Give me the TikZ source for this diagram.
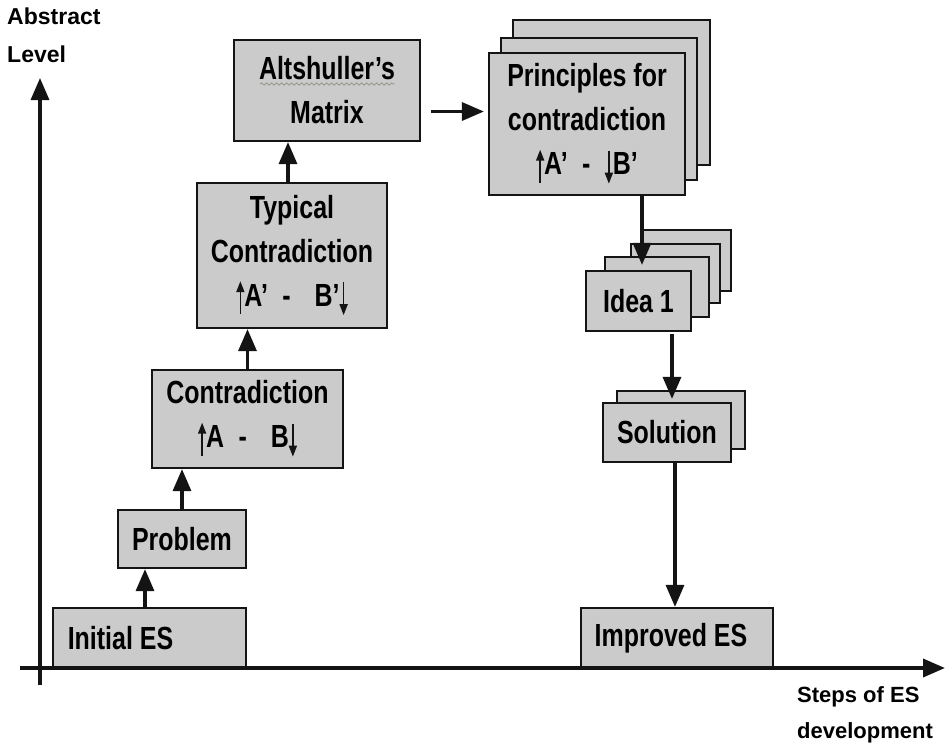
\documentclass[tikz,border=0pt]{standalone}
\usepackage{fontspec}
\setmainfont{Liberation Sans}
\newfontfamily\boxfont{Liberation Sans}[FakeStretch=0.78]
\usepackage{tikz}
\usetikzlibrary{arrows.meta,positioning,decorations.pathmorphing}
\definecolor{boxgray}{RGB}{203,203,203}
\definecolor{inkblack}{RGB}{20,20,20}
\definecolor{squiggle}{RGB}{150,150,140}
% small arrows inside the contradiction texts
\newcommand{\uparr}{\tikz[baseline=0pt]\draw[inkblack, line width=1.7pt, -{Triangle[width=8pt,length=11pt]}] (0pt,-8pt) -- (0pt,25pt);}
\newcommand{\dnarr}{\tikz[baseline=0pt]\draw[inkblack, line width=1.7pt, -{Triangle[width=8pt,length=11pt]}] (0pt,24pt) -- (0pt,-9pt);}

\begin{document}
\begin{tikzpicture}[x=1pt, y=-1pt,
    box/.style={draw=inkblack, line width=2.2pt, fill=boxgray, align=center, inner sep=4pt,
      font=\boxfont\bfseries\fontsize{32}{44}\selectfont},
    card/.style={draw=inkblack, line width=2.2pt, fill=boxgray},
    flow/.style={draw=inkblack, line width=3.3pt, -{Triangle[width=18pt,length=22pt]}},
    axislabel/.style={font=\bfseries\fontsize{23}{38}\selectfont, align=left, inner sep=0pt}]
    \useasboundingbox (0,0) rectangle (948,748);
    % Left column: from the initial system up to the matrix
    \node[box, minimum width=193pt, minimum height=60pt] (init) at (149.5,638)
      {Initial ES\hspace*{58pt}};
    \node[box, minimum width=128pt, minimum height=58pt] (prob) at (182,539) {Problem};
    \node[box, minimum width=191pt, minimum height=98pt] (contra) at (247.5,419)
      {Contradiction\\ \uparr A\hspace{0.45em}-\hspace{0.75em}B\dnarr};
    \node[box, minimum width=190pt, minimum height=145pt] (typ) at (292,255.5)
      {Typical\\Contradiction\\ \uparr A’\hspace{0.45em}-\hspace{0.75em}B’\dnarr};
    \node[box, minimum width=186pt, minimum height=101pt] (alt) at (327,90.5)
      {Altshuller’s\\Matrix};
    \draw[squiggle, line width=0.8pt, decorate, decoration={snake, amplitude=1.2pt, segment length=5pt}]
      (260,84) -- (395,84);
    % Right column: stacked cards
    \foreach \xa/\ya/\xb/\yb in {513/20/710/165, 501/38/697/180} {
      \draw[card] (\xa,\ya) rectangle (\xb,\yb);
    }
    \node[box, minimum width=196pt, minimum height=142pt] (prin) at (587,124)
      {Principles for\\contradiction\\ \uparr A’\hspace{0.45em}-\hspace{0.45em}\dnarr B’};
    \foreach \xa/\ya/\xb/\yb in {643/230/731/291, 631/244/720/303, 605/257/709/317} {
      \draw[card] (\xa,\ya) rectangle (\xb,\yb);
    }
    \node[box, minimum width=105pt, minimum height=60pt] (idea) at (638.5,301) {Idea 1};
    \draw[card] (617,391) rectangle (745,449);
    \node[box, minimum width=128pt, minimum height=59pt] (sol) at (667,432.5) {Solution};
    \node[box, minimum width=192pt, minimum height=60pt] (imp) at (677,638)
      {Improved ES\hspace*{12pt}};
    % Connectors
    \draw[flow] ([xshift=-4.5pt]init.north) -- ([xshift=-4.5pt]init.north |- prob.south);
    \draw[flow] (prob.north) -- (prob.north |- contra.south);
    \draw[flow] (contra.north) -- (contra.north |- typ.south);
    \draw[flow] ([xshift=-4pt]typ.north) -- ([xshift=-4pt]typ.north |- alt.south);
    \draw[flow] ([shift={(10,21)}]alt.east) coordinate (a0) -- ([xshift=-4pt]prin.west |- a0);
    \draw[flow] ([xshift=3.5pt]idea.north |- prin.south) -- ([xshift=3.5pt,yshift=5pt]idea.north);
    \draw[flow] ([xshift=5pt,yshift=-2pt]sol.north |- idea.south) -- ([xshift=5pt,yshift=3pt]sol.north);
    \draw[flow] ([xshift=-2pt]imp.north |- sol.south) -- ([xshift=-2pt]imp.north);
    % Axes
    \coordinate (origin) at (40,668);
    \draw[flow, line width=3.4pt] ([yshift=-17pt]origin) -- (40,78);
    \draw[flow, line width=3.6pt] ([xshift=-20pt]origin) -- (945,668);
    \node[axislabel, anchor=north west] (ylab) at (7,8) {Abstract\\Level};
    \node[axislabel, anchor=north west, font=\bfseries\fontsize{22}{36}\selectfont] (xlab) at (797,686)
      {Steps of ES\\development};
\end{tikzpicture}
\end{document}
